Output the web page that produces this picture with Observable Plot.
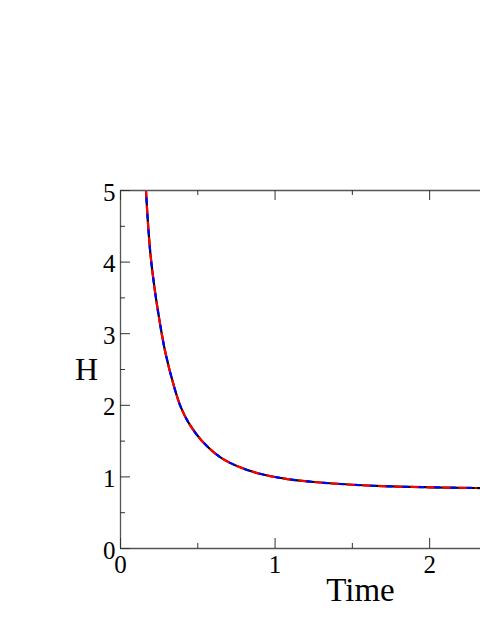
<!DOCTYPE html>
<html>
<head>
<meta charset="utf-8">
<script src="https://cdn.jsdelivr.net/npm/d3@7"></script>
<script src="https://cdn.jsdelivr.net/npm/@observablehq/plot@0.6"></script>
<style>
  html, body { margin: 0; padding: 0; background: #fff; overflow: hidden; }
  svg { display: block; }
</style>
</head>
<body>
<div id="chart"></div>
<script>
// Data
const time = [0.165, 0.176, 0.193, 0.218, 0.251, 0.290, 0.348, 0.391, 0.445, 0.524, 0.649, 0.778, 0.908, 1.08, 1.27, 1.5, 1.7, 2.0, 2.3];
const hRed = [5.0, 4.60, 4.13, 3.67, 3.20, 2.74, 2.25, 1.97, 1.74, 1.51, 1.27, 1.13, 1.04, 0.97, 0.925, 0.89, 0.87, 0.855, 0.845];
const hBlue = [5.0, 4.60, 4.13, 3.67, 3.20, 2.74, 2.25, 1.97, 1.74, 1.51, 1.27, 1.13, 1.04, 0.97, 0.925, 0.89, 0.87, 0.855, 0.845];
const timeBlack = [0.165, 0.176, 0.193, 0.218, 0.251, 0.290, 0.348, 0.391, 0.445, 0.524, 0.649, 0.778, 0.908, 1.08, 1.27, 1.5, 1.7, 2.0, 2.3, 2.4];
const hBlack = [5.0, 4.60, 4.13, 3.67, 3.20, 2.74, 2.25, 1.97, 1.74, 1.51, 1.27, 1.13, 1.04, 0.97, 0.925, 0.89, 0.87, 0.855, 0.845, 0.843];

const xMajor = [0, 1, 2];
const xMinor = [0.5, 1.5];
const yMajor = [0, 1, 2, 3, 4, 5];
const yMinor = [0.5, 1.5, 2.5, 3.5, 4.5];
const xTitle = "Time";
const yTitle = "H";

const red = time.map((t, i) => ({t, h: hRed[i]}));
const blue = time.map((t, i) => ({t, h: hBlue[i]}));
const black = timeBlack.map((t, i) => ({t, h: hBlack[i]}));

const axisColor = "#555";
const font = "'Liberation Serif', 'DejaVu Serif', serif";
const fmt = d3.format("d");

const chart = Plot.plot({
  width: 480,
  height: 621,
  marginLeft: 120,
  marginRight: 0,
  marginTop: 190,
  marginBottom: 73,
  style: {fontFamily: font, background: "#fff", color: "black"},
  x: {domain: [0, 2.329], axis: null},
  y: {domain: [0, 5], axis: null},
  marks: [
    // curves
    Plot.line(black, {x: "t", y: "h", stroke: "black", strokeWidth: 2.2, curve: "catmull-rom", clip: true}),
    Plot.line(red, {x: "t", y: "h", stroke: "red", strokeWidth: 2.2, strokeDasharray: "7,9", curve: "catmull-rom", clip: true}),
    Plot.line(blue, {x: "t", y: "h", stroke: "blue", strokeWidth: 2.2, strokeDasharray: "4,12", strokeDashoffset: -8, curve: "catmull-rom", clip: true}),
    // frame (left, bottom, top)
    Plot.ruleX([0], {stroke: axisColor, strokeWidth: 1.3}),
    Plot.ruleY([0, 5], {stroke: axisColor, strokeWidth: 1.3}),
    // inward ticks, bottom
    Plot.ruleX(xMajor, {x: d => d, y1: 0, y2: 0, insetBottom: 10, stroke: "#333"}),
    Plot.ruleX(xMinor, {x: d => d, y1: 0, y2: 0, insetBottom: 5, stroke: "#333"}),
    // inward ticks, top
    Plot.ruleX(xMajor, {x: d => d, y1: 5, y2: 5, insetTop: 10, stroke: "#333"}),
    Plot.ruleX(xMinor, {x: d => d, y1: 5, y2: 5, insetTop: 5, stroke: "#333"}),
    // inward ticks, left
    Plot.ruleY(yMajor, {y: d => d, x1: 0, x2: 0, insetRight: -10, stroke: "#333"}),
    Plot.ruleY(yMinor, {y: d => d, x1: 0, x2: 0, insetRight: -5, stroke: "#333"}),
    // tick labels
    Plot.text(xMajor, {x: d => d, y: 0, text: d => fmt(d), dy: 16, textAnchor: "middle", fontSize: 25, fill: "black"}),
    Plot.text(yMajor, {x: 0, y: d => d, text: d => fmt(d), dx: -5, dy: 2, textAnchor: "end", fontSize: 25, fill: "black"}),
    // axis titles
    Plot.text([xTitle], {frameAnchor: "bottom", textAnchor: "middle", dx: 60, dy: 52, fontSize: 33, fill: "black"}),
    Plot.text([yTitle], {frameAnchor: "left", textAnchor: "middle", dx: -34, dy: 0, fontSize: 32, fill: "black"})
  ]
});
document.getElementById("chart").appendChild(chart);
</script>
</body>
</html>
